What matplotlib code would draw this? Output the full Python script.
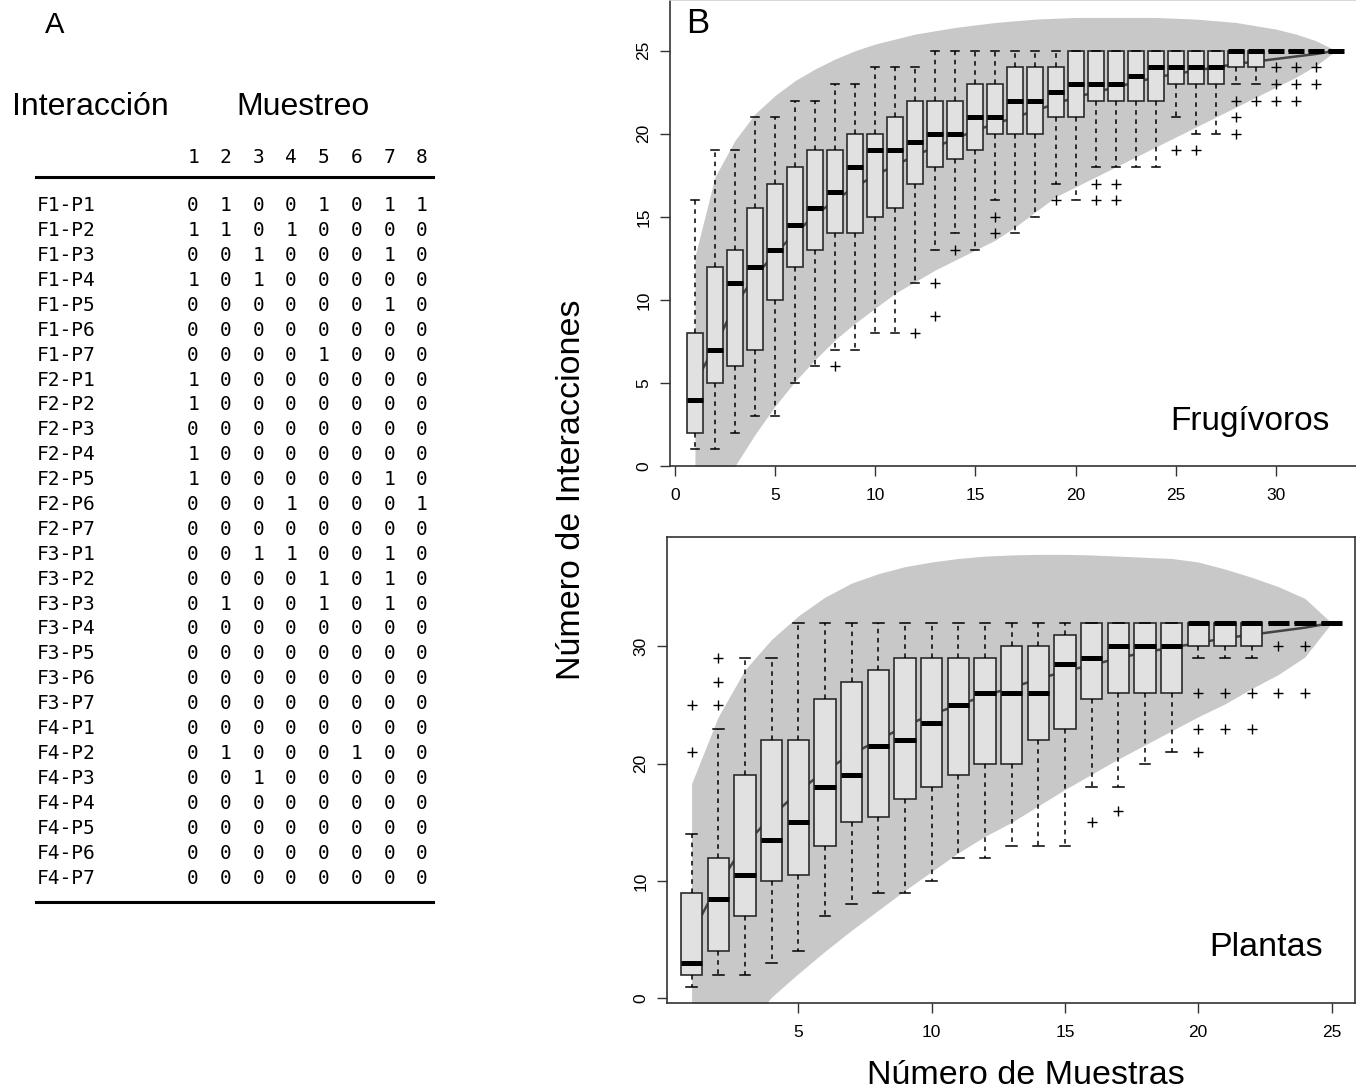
import numpy as np
import matplotlib
matplotlib.use("Agg")
import matplotlib.pyplot as plt

# ---------------- panel A: sampling matrix ----------------
interacciones = [f"F{f}-P{p}" for f in range(1, 5) for p in range(1, 8)]
muestreos = ["1", "2", "3", "4", "5", "6", "7", "8"]
matriz = [
    [0, 1, 0, 0, 1, 0, 1, 1],
    [1, 1, 0, 1, 0, 0, 0, 0],
    [0, 0, 1, 0, 0, 0, 1, 0],
    [1, 0, 1, 0, 0, 0, 0, 0],
    [0, 0, 0, 0, 0, 0, 1, 0],
    [0, 0, 0, 0, 0, 0, 0, 0],
    [0, 0, 0, 0, 1, 0, 0, 0],
    [1, 0, 0, 0, 0, 0, 0, 0],
    [1, 0, 0, 0, 0, 0, 0, 0],
    [0, 0, 0, 0, 0, 0, 0, 0],
    [1, 0, 0, 0, 0, 0, 0, 0],
    [1, 0, 0, 0, 0, 0, 1, 0],
    [0, 0, 0, 1, 0, 0, 0, 1],
    [0, 0, 0, 0, 0, 0, 0, 0],
    [0, 0, 1, 1, 0, 0, 1, 0],
    [0, 0, 0, 0, 1, 0, 1, 0],
    [0, 1, 0, 0, 1, 0, 1, 0],
    [0, 0, 0, 0, 0, 0, 0, 0],
    [0, 0, 0, 0, 0, 0, 0, 0],
    [0, 0, 0, 0, 0, 0, 0, 0],
    [0, 0, 0, 0, 0, 0, 0, 0],
    [0, 0, 0, 0, 0, 0, 0, 0],
    [0, 1, 0, 0, 0, 1, 0, 0],
    [0, 0, 1, 0, 0, 0, 0, 0],
    [0, 0, 0, 0, 0, 0, 0, 0],
    [0, 0, 0, 0, 0, 0, 0, 0],
    [0, 0, 0, 0, 0, 0, 0, 0],
    [0, 0, 0, 0, 0, 0, 0, 0],
]

# ---------------- panel B top: frugivores (33 sample sizes) ----------------
frug_q1 = [2, 5, 6, 7, 10, 12, 13, 14, 14, 15, 15.5, 17, 18, 18.5, 19, 20, 20, 20, 21, 21,
           22, 22, 22, 22, 23, 23, 23, 24, 24, 25, 25, 25, 25]
frug_med = [4, 7, 11, 12, 13, 14.5, 15.5, 16.5, 18, 19, 19, 19.5, 20, 20, 21, 21, 22, 22, 22.5, 23,
            23, 23, 23.5, 24, 24, 24, 24, 25, 25, 25, 25, 25, 25]
frug_q3 = [8, 12, 13, 15.5, 17, 18, 19, 19, 20, 20, 21, 22, 22, 22, 23, 23, 24, 24, 24, 25,
           25, 25, 25, 25, 25, 25, 25, 25, 25, 25, 25, 25, 25]
frug_lo = [1, 1, 2, 3, 3, 5, 6, 7, 7, 8, 8, 11, 13, 14, 13, 16, 14, 15, 17, 16,
           18, 18, 18, 18, 21, 20, 20, 23, 23, 25, 25, 25, 25]
frug_hi = [16, 19, 19, 21, 21, 22, 22, 23, 23, 24, 24, 24, 25, 25, 25, 25, 25, 25, 25, 25,
           25, 25, 25, 25, 25, 25, 25, 25, 25, 25, 25, 25, 25]
frug_out = {8: [6], 12: [8], 13: [11, 9], 14: [13], 16: [15, 14], 19: [16], 21: [17, 16],
            22: [17, 16], 25: [19], 26: [19], 28: [22, 21, 20], 29: [22],
            30: [24, 23, 22], 31: [24, 23, 22], 32: [24, 23]}
frug_mean = [5.0, 7.2, 9.7, 11.4, 12.8, 14.0, 15.1, 16.0, 16.8, 17.5, 18.1, 18.7, 19.2, 19.7,
             20.2, 20.6, 21.0, 21.4, 21.8, 22.2, 22.5, 22.8, 23.1, 23.4, 23.6, 23.8, 24.0,
             24.2, 24.35, 24.5, 24.65, 24.8, 25.0]
frug_env_hi = [12.6, 17.4, 19.6, 21.2, 22.3, 23.2, 23.9, 24.5, 25.0, 25.4, 25.7, 26.0, 26.2,
               26.4, 26.55, 26.7, 26.8, 26.9, 26.95, 27.0, 27.0, 27.0, 27.0, 27.0, 26.95,
               26.9, 26.8, 26.7, 26.5, 26.3, 26.0, 25.6, 25.0]
frug_env_lo = [-6, -2.5, 0, 1.9, 3.6, 5.1, 6.4, 7.6, 8.6, 9.5, 10.4, 11.1, 11.8, 12.4, 13.0,
               13.6, 14.4, 15.3, 16.2, 16.8, 17.4, 18.0, 18.6, 19.2, 19.8, 20.4, 21.0, 21.6,
               22.2, 22.8, 23.4, 24.1, 25.0]

# ---------------- panel B bottom: plants (25 sample sizes) ----------------
plant_q1 = [2, 4, 7, 10, 10.5, 13, 15, 15.5, 17, 18, 19, 20, 20, 22, 23, 25.5, 26, 26, 26,
            30, 30, 30, 32, 32, 32]
plant_med = [3, 8.5, 10.5, 13.5, 15, 18, 19, 21.5, 22, 23.5, 25, 26, 26, 26, 28.5, 29, 30,
             30, 30, 32, 32, 32, 32, 32, 32]
plant_q3 = [9, 12, 19, 22, 22, 25.5, 27, 28, 29, 29, 29, 29, 30, 30, 31, 32, 32, 32, 32,
            32, 32, 32, 32, 32, 32]
plant_lo = [1, 2, 2, 3, 4, 7, 8, 9, 9, 10, 12, 12, 13, 13, 13, 18, 18, 20, 21, 29, 29, 29,
            32, 32, 32]
plant_hi = [14, 23, 29, 29, 32, 32, 32, 32, 32, 32, 32, 32, 32, 32, 32, 32, 32, 32, 32, 32,
            32, 32, 32, 32, 32]
plant_out = {1: [21, 25], 2: [25, 27, 29], 16: [15], 17: [16], 20: [26, 23, 21],
             21: [26, 23], 22: [26, 23], 23: [30, 26], 24: [30, 26]}
plant_mean = [5.5, 9.7, 13.1, 15.5, 17.6, 19.4, 20.8, 22.0, 23.2, 24.2, 25.0, 25.8, 26.5,
              27.2, 27.9, 28.4, 29.0, 29.5, 29.9, 30.3, 30.7, 31.0, 31.3, 31.6, 32.0]
plant_env_hi = [18.3, 24.0, 28.0, 30.6, 32.6, 34.2, 35.4, 36.2, 36.8, 37.2, 37.5, 37.7, 37.8,
                37.85, 37.85, 37.8, 37.7, 37.6, 37.5, 37.2, 36.6, 35.9, 35.1, 34.1, 32.0]
plant_env_lo = [-10, -6, -2.6, 0.1, 2.1, 4.0, 5.8, 7.5, 9.2, 10.8, 12.4, 13.8, 15.0, 16.4,
                17.8, 19.1, 20.4, 21.6, 22.8, 24.0, 25.1, 26.4, 27.6, 29.1, 32.0]

W, H = 1356, 1089
SANS = "Liberation Sans"
MONO = "DejaVu Sans Mono"
plt.rcParams["font.family"] = SANS


def px_rect(left, top, right, bottom):
    return [left / W, 1 - bottom / H, (right - left) / W, (bottom - top) / H]


def draw_panel(ax, q1, med, q3, lo, hi, outl, means, env_lo, env_hi):
    x = np.arange(1, len(med) + 1)
    ax.fill_between(x, env_lo, env_hi, color="#c8c8c8", lw=0, zorder=1)
    ax.plot(x, means, color="#444444", lw=1.8, zorder=1.5)
    stats = []
    for i in range(len(med)):
        stats.append(dict(q1=q1[i], med=med[i], q3=q3[i], whislo=lo[i], whishi=hi[i],
                          fliers=outl.get(i + 1, [])))
    ax.bxp(stats, positions=x, widths=0.8, patch_artist=True, manage_ticks=False,
           boxprops=dict(facecolor="#e1e1e1", edgecolor="#2b2b2b", lw=1.2),
           medianprops=dict(color="black", lw=3.6, solid_capstyle="butt"),
           whiskerprops=dict(color="black", lw=1.1, linestyle=(0, (3, 3))),
           capprops=dict(color="black", lw=1.1),
           flierprops=dict(marker="+", markersize=7, markeredgecolor="black",
                           markeredgewidth=1.0, linestyle="none"))
    ax.tick_params(direction="out", length=7, width=1, color="#333333",
                   labelsize=12.5, pad=9)
    ax.tick_params(axis="y", labelrotation=90, pad=6)
    for sp in ax.spines.values():
        sp.set_color("#333333")
        sp.set_linewidth(1.2)


fig = plt.figure(figsize=(W / 100, H / 100), dpi=100)

# top panel (Frugivoros)
ax1 = fig.add_axes(px_rect(669.5, 0, 1358, 466))
draw_panel(ax1, frug_q1, frug_med, frug_q3, frug_lo, frug_hi, frug_out, frug_mean,
           frug_env_lo, frug_env_hi)
ax1.set_xlim(-0.27, 34.1)
ax1.set_ylim(0, 28.05)
ax1.set_xticks(range(0, 31, 5))
ax1.set_yticks(range(0, 26, 5))
ax1.spines["right"].set_visible(False)
ax1.spines["top"].set_color("#d0d0d0")
for lab in ax1.get_yticklabels():
    lab.set_va("center")

# bottom panel (Plantas)
ax2 = fig.add_axes(px_rect(666.5, 537, 1355, 1003))
draw_panel(ax2, plant_q1, plant_med, plant_q3, plant_lo, plant_hi, plant_out, plant_mean,
           plant_env_lo, plant_env_hi)
ax2.set_xlim(0.06, 25.88)
ax2.set_ylim(-0.4, 39.33)
ax2.set_xticks(range(5, 26, 5))
ax2.set_yticks(range(0, 31, 10))
for lab in ax2.get_yticklabels():
    lab.set_va("center")

# overlay in pixel coordinates for the table and free text (drawn on top)
ov = fig.add_axes([0, 0, 1, 1], zorder=5)
ov.set_xlim(0, W)
ov.set_ylim(H, 0)
ov.axis("off")

ov.text(45, 33, "A", fontsize=21, ha="left", va="baseline")
ov.text(686, 33, "B", fontsize=25, ha="left", va="baseline")
ov.text(12, 115, "Interacción", fontsize=23, ha="left", va="baseline")
ov.text(303, 115, "Muestreo", fontsize=23, ha="center", va="baseline")

col_x = [193 + 32.7 * j for j in range(len(muestreos))]
for cx, m in zip(col_x, muestreos):
    ov.text(cx, 163, m, fontsize=14, family=MONO, ha="center", va="baseline")
ov.plot([36, 433], [177, 177], color="black", lw=2.2)
for i, (lab, fila) in enumerate(zip(interacciones, matriz)):
    yb = 211.2 + 24.9 * i
    ov.text(36.5, yb, lab, fontsize=14, family=MONO, ha="left", va="baseline")
    for cx, v in zip(col_x, fila):
        ov.text(cx, yb, str(v), fontsize=14, family=MONO, ha="center", va="baseline")
ov.plot([36, 433], [902, 902], color="black", lw=2.2)

ov.text(572, 490, "Número de Interacciones", fontsize=24.5, rotation=90,
        ha="center", va="center")
ov.text(1026, 1084, "Número de Muestras", fontsize=24.5, ha="center", va="baseline")
ov.text(1330, 430, "Frugívoros", fontsize=24, ha="right", va="baseline")
ov.text(1323, 956, "Plantas", fontsize=24.5, ha="right", va="baseline")

fig.savefig("out.png", dpi=100)
